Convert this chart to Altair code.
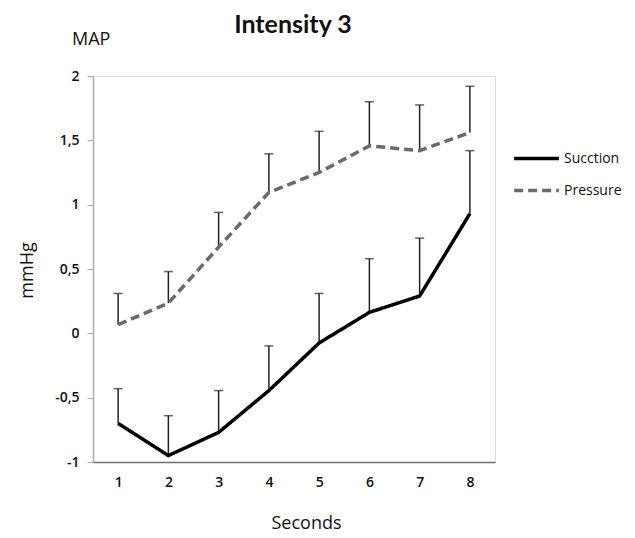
import altair as alt
import pandas as pd

seconds = [1, 2, 3, 4, 5, 6, 7, 8]
suction_mean = [-0.70, -0.95, -0.77, -0.445, -0.075, 0.163, 0.29, 0.93]
suction_top = [-0.43, -0.64, -0.445, -0.098, 0.31, 0.58, 0.74, 1.42]
pressure_mean = [0.067, 0.235, 0.67, 1.095, 1.25, 1.457, 1.42, 1.56]
pressure_top = [0.31, 0.48, 0.94, 1.395, 1.57, 1.80, 1.775, 1.92]
series_names = ["Sucction", "Pressure"]

rows = []
for s, m, t in zip(seconds, suction_mean, suction_top):
    rows.append({"sec": str(s), "series": series_names[0], "mean": m, "top": t})
for s, m, t in zip(seconds, pressure_mean, pressure_top):
    rows.append({"sec": str(s), "series": series_names[1], "mean": m, "top": t})
df = pd.DataFrame(rows)

FONT = "Open Sans"
W, H = 402, 386

x = alt.X("sec:O", scale=alt.Scale(type="point", padding=0.5),
          axis=alt.Axis(title="Seconds", labelAngle=0, ticks=False, domainColor="#707070",
                        domainWidth=1.5, labelFont=FONT, labelFontSize=14, labelFontWeight=600,
                        labelColor="#111", labelPadding=13, titleFont=FONT, titleFontSize=18,
                        titleFontWeight="normal", titleColor="#111",
                        titleX=213, titleY=61, titleBaseline="middle", titleAlign="center"))
y = alt.Y("mean:Q", scale=alt.Scale(domain=[-1, 2], nice=False, zero=False),
          axis=alt.Axis(title="mmHg", grid=False, values=[-1, -0.5, 0, 0.5, 1, 1.5, 2],
                        labelExpr="(datum.value < 0 ? '-' : '') + replace(format(abs(datum.value), '~g'), '.', ',')",
                        domainColor="#aaaaaa", tickColor="#aaaaaa", tickSize=6, domainWidth=1.5,
                        labelFont=FONT, labelFontSize=14, labelFontWeight=600, labelColor="#111",
                        labelPadding=8, titleFont=FONT, titleFontSize=18, titleFontWeight="normal",
                        titleColor="#111", titleAngle=-90, titleX=-66, titleY=194,
                        titleAlign="center", titleBaseline="middle"))

err = alt.Chart(df).mark_rule(color="#222", strokeWidth=1.5).encode(
    x=x, y=y, y2="top:Q")
caps = alt.Chart(df).mark_tick(color="#222", thickness=1.5, size=9).encode(
    x=x, y=alt.Y("top:Q"))

lines = alt.Chart(df).mark_line(strokeWidth=3.5).encode(
    x=x, y=y,
    color=alt.Color("series:N", sort=series_names,
                    scale=alt.Scale(domain=series_names, range=["#000000", "#6a6a6a"]),
                    legend=alt.Legend(title=None, orient="none", legendX=419, legendY=58,
                                      symbolType="stroke", symbolSize=2000, symbolStrokeWidth=3.5,
                                      labelFont=FONT, labelFontSize=14, labelColor="#111",
                                      rowPadding=-17, labelOffset=3)),
    strokeDash=alt.StrokeDash("series:N", sort=series_names,
                              scale=alt.Scale(domain=series_names, range=[[1, 0], [9, 5]]),
                              legend=None),
)

title = alt.Chart(pd.DataFrame({"t": ["Intensity 3"]})).mark_text(
    font="Lato", fontSize=25, fontWeight="bold", color="#111", align="center", baseline="alphabetic"
).encode(text="t:N", x=alt.value(200), y=alt.value(-43))
maplabel = alt.Chart(pd.DataFrame({"t": ["MAP"]})).mark_text(
    font=FONT, fontSize=18, color="#111", align="left", baseline="middle"
).encode(text="t:N", x=alt.value(-21), y=alt.value(-36))

chart = alt.layer(err, caps, lines, title, maplabel).properties(
    width=W, height=H,
    autosize=alt.AutoSizeParams(type="none"),
    padding={"left": 85, "top": 68, "right": 130, "bottom": 74},
).configure_view(stroke=None).configure(background="white")

chart.save("out.html", embed_options={"renderer": "svg", "actions": False})
